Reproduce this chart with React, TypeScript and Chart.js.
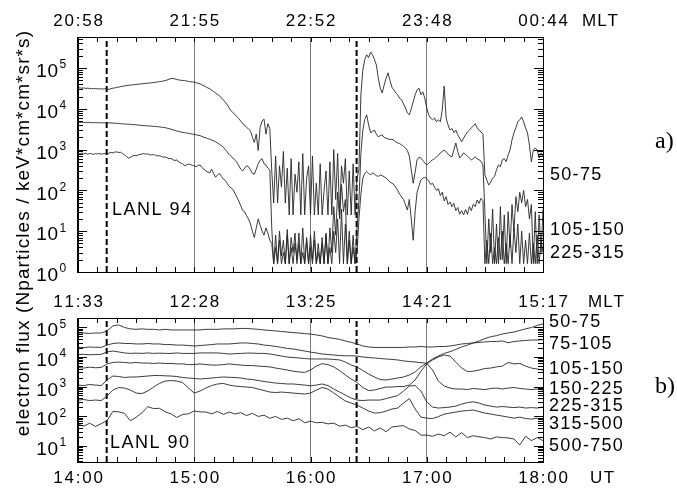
import React, { useEffect, useRef } from 'react';
import { Chart, registerables } from 'chart.js';

Chart.register(...registerables);

// ---------- data ----------
const UT_TICKS = ['14:00', '15:00', '16:00', '17:00', '18:00'];
const MLT_TICKS_A = ['20:58', '21:55', '22:52', '23:48', '00:44'];
const MLT_TICKS_B = ['11:33', '12:28', '13:25', '14:21', '15:17'];
const CHANNELS_A = ['50-75', '105-150', '225-315'];
const CHANNELS_B = ['50-75', '75-105', '105-150', '150-225', '225-315', '315-500', '500-750'];
const INJECTION_MINUTES = [14.8, 143.8];

// minutes after 14:00 UT
const MINUTES_A = Array.from({ length: 241 }, (_, i) => i);
const MINUTES_B = Array.from({ length: 81 }, (_, i) => i * 3);

// LANL 94, one value per minute
const FLUX_A_50_75 = [
  33000, 32500, 32000, 32500, 31500, 32000, 31500, 31000, 31500, 31000,
  31000, 30500, 31000, 30500, 31000, 30500, 30000, 31000, 32000, 32500,
  33500, 34000, 35000, 35500, 36500, 37000, 37500, 38000, 38500, 39000,
  39500, 40000, 40500, 41000, 41500, 42000, 42500, 43000, 43500, 44000,
  44500, 45500, 46000, 47000, 48000, 49000, 51000, 53000, 55000, 56000,
  54000, 52000, 51000, 50000, 49500, 49000, 48000, 47000, 46000, 45500,
  45000, 43500, 42000, 41000, 38500, 36500, 34500, 32500, 31000, 28500,
  26500, 24500, 22500, 21000, 18500, 16500, 14500, 12500, 10500, 9000,
  8000, 7200, 6500, 5700, 5000, 4300, 4000, 3500, 3200, 2900,
  2000, 1500, 2400, 950, 3500, 5000, 5600, 2400, 4300, 3300,
  300, 49, 700, 49, 400, 120, 900, 49, 350, 25,
  600, 25, 250, 90, 500, 25, 800, 25, 200, 400,
  25, 700, 25, 150, 25, 450, 25, 100, 300, 25,
  500, 25, 1000, 60, 800, 25, 400, 150, 600, 25,
  300, 25, 450, 25, 200, 320, 22000, 89000, 160000, 210000,
  180000, 245000, 210000, 160000, 118000, 56000, 32000, 24500, 38000, 56000,
  76000, 50000, 34000, 29000, 24500, 22000, 18000, 16600, 13200, 10500,
  8000, 7100, 10000, 14800, 22000, 29000, 32000, 22000, 26000, 18000,
  10500, 7100, 5900, 5400, 5900, 4800, 5400, 4800, 9300, 36000,
  5900, 4000, 3000, 3300, 2600, 3000, 2300, 1900, 1550, 1900,
  2300, 2700, 3000, 3400, 3800, 4300, 3400, 3000, 2700, 2400,
  240, 178, 135, 160, 200, 220, 320, 420, 380, 560,
  600, 510, 740, 980, 1740, 2570, 3400, 4800, 5400, 6300,
  4800, 3400, 2570, 1290, 500, 980, 1100, 980, 620, 830,
  660,
];
const FLUX_A_105_150 = [
  4700, 4650, 4700, 4600, 4650, 4600, 4650, 4550, 4600, 4550,
  4600, 4500, 4550, 4500, 4550, 4500, 4500, 4500, 4450, 4450,
  4400, 4350, 4300, 4300, 4250, 4200, 4200, 4150, 4100, 4100,
  4050, 4000, 3950, 3900, 3900, 3850, 3800, 3800, 3750, 3700,
  3700, 3650, 3600, 3550, 3500, 3450, 3350, 3250, 3150, 3050,
  2950, 2850, 2800, 2700, 2650, 2600, 2550, 2500, 2450, 2400,
  2350, 2300, 2250, 2200, 2100, 2000, 1950, 1850, 1800, 1700,
  1650, 1550, 1450, 1350, 1250, 1150, 1000, 880, 760, 680,
  620, 550, 490, 400, 330, 300, 350, 400, 380, 320,
  260, 250, 330, 450, 550, 600, 450, 420, 350, 320,
  12, 1.6, 8, 1.6, 10, 2.5, 6, 1.6, 11, 1.6,
  7, 3, 9, 1.6, 5, 1.6, 12, 1.6, 6, 1.6,
  8, 2, 10, 1.6, 5, 1.6, 7, 1.6, 9, 1.6,
  12, 3, 40, 8, 90, 20, 140, 30, 60, 1.6,
  10, 1.6, 8, 1.6, 12, 58, 800, 3000, 5500, 7100,
  4000, 2600, 2800, 3000, 2400, 2050, 2200, 2300, 2000, 1900,
  1850, 1750, 1800, 1700, 1550, 1450, 1400, 1300, 1200, 1100,
  950, 690, 320, 150, 280, 560, 650, 620, 540, 470,
  420, 460, 520, 560, 600, 660, 720, 830, 900, 980,
  870, 780, 700, 660, 1000, 1450, 900, 620, 700, 830,
  760, 690, 620, 560, 600, 660, 600, 560, 520, 420,
  30, 1.6, 20, 3, 35, 1.6, 15, 1.6, 40, 2,
  25, 1.6, 30, 4, 45, 10, 70, 30, 90, 50,
  100, 40, 60, 20, 45, 1.6, 30, 1.6, 25, 3,
  35,
];
const FLUX_A_225_315 = [
  800, 780, 820, 790, 810, 770, 800, 790, 760, 800,
  780, 810, 770, 790, 800, 780, 820, 850, 830, 870,
  880, 850, 860, 800, 740, 680, 620, 640, 690, 720,
  700, 740, 760, 780, 800, 770, 790, 750, 740, 760,
  720, 700, 710, 680, 650, 660, 630, 600, 610, 560,
  540, 560, 500, 470, 450, 400, 420, 440, 430, 410,
  400, 380, 410, 420, 360, 330, 300, 280, 270, 330,
  260, 210, 240, 260, 220, 190, 175, 150, 125, 115,
  105, 85, 68, 55, 42, 32, 30, 24, 20, 15,
  10, 7, 12, 20, 14, 10, 8, 12, 9, 6,
  5, 1.6, 4, 1.6, 6, 1.6, 3, 1.6, 8, 1.6,
  4, 1.6, 5, 2, 9, 1.6, 3, 1.6, 7, 1.6,
  4, 1.6, 6, 1.6, 3, 1.6, 5, 1.6, 8, 1.6,
  4, 1.6, 10, 3, 20, 1.6, 35, 1.6, 15, 1.6,
  6, 1.6, 4, 1.6, 3, 20, 80, 200, 260, 290,
  260, 240, 270, 250, 230, 220, 240, 230, 215, 200,
  180, 160, 150, 140, 120, 100, 80, 70, 60, 45,
  33, 60, 20, 6, 30, 90, 130, 180, 200, 210,
  190, 170, 140, 150, 120, 100, 110, 75, 90, 55,
  70, 45, 52, 40, 48, 32, 38, 26, 32, 25,
  34, 26, 40, 32, 46, 40, 58, 48, 64, 56,
  1.6, 6, 1.6, 9, 1.6, 4, 1.6, 7, 2, 10,
  1.6, 5, 1.6, 8, 1.6, 12, 3, 15, 1.6, 10,
  1.6, 6, 1.6, 9, 1.6, 5, 1.6, 8, 1.6, 6,
  3,
];

// LANL 90, one value every 3 minutes
const FLUX_B_1 = [
  64000, 64000, 62000, 64000, 64000, 75000, 111000, 120000, 98000, 88000,
  85000, 88000, 85000, 85000, 81000, 85000, 81000, 81000, 81000, 81000,
  81000, 81000, 85000, 85000, 85000, 88000, 88000, 88000, 91000, 91000,
  88000, 85000, 81000, 78000, 75000, 72000, 69000, 66000, 64000, 61000,
  59000, 55000, 51000, 45000, 42000, 39000, 34500, 31000, 27300, 23300,
  21600, 20800, 20800, 20800, 20800, 20800, 20800, 21600, 21600, 22400,
  21600, 21600, 22400, 22400, 23300, 25000, 27300, 28300, 29500, 30700,
  32000, 33000, 33000, 34500, 30000, 33000, 34500, 36000, 37000, 37000,
  38500,
];
const FLUX_B_2 = [
  21000, 20500, 21600, 21000, 21000, 25000, 28300, 29500, 28300, 28300,
  27300, 27300, 28300, 27300, 27300, 26000, 26000, 25000, 25000, 24200,
  23300, 24200, 25000, 26000, 27300, 27300, 27300, 28300, 29500, 29500,
  28300, 27300, 25000, 24000, 22500, 21000, 19300, 18500, 17100, 15800,
  14500, 13600, 12500, 12000, 11600, 11100, 10900, 10900, 10700, 9900,
  9500, 9200, 8800, 8500, 8200, 7900, 7300, 7000, 6700, 6400,
  6100, 3600, 1530, 1040, 890, 824, 824, 790, 860, 824,
  790, 860, 890, 824, 890, 925, 860, 824, 790, 824,
  762,
];
const FLUX_B_3 = [
  12000, 12200, 11800, 12000, 12200, 14700, 15800, 14700, 13600, 13100,
  13400, 13100, 13600, 13100, 13400, 13100, 13100, 13600, 13100, 13100,
  13100, 13600, 13600, 13600, 13600, 13100, 12500, 12800, 13100, 13400,
  13400, 13100, 13100, 12500, 11600, 10700, 9900, 9500, 9200, 8800,
  8500, 8500, 8500, 8500, 8200, 7900, 6700, 5300, 4600, 3450,
  2640, 2100, 1720, 1660, 1790, 1940, 2100, 2450, 3100, 4600,
  6200, 8500, 10700, 13100, 15000, 17800, 21600, 25000, 29500, 34500,
  41500, 48000, 52000, 59000, 64000, 69000, 78000, 88000, 98000, 115000,
  130000,
];
const FLUX_B_4 = [
  4400, 4200, 4500, 4300, 4400, 5800, 6500, 6700, 6500, 6200,
  6500, 6200, 6200, 6000, 6200, 6000, 6000, 5800, 5800, 5500,
  5500, 5800, 5500, 5300, 5300, 5500, 5800, 5500, 5300, 5100,
  5100, 4900, 4750, 4600, 4200, 3900, 3600, 3300, 3100, 3000,
  3600, 4900, 5900, 5500, 4600, 3450, 2450, 1790, 1370, 925,
  735, 762, 860, 962, 962, 1000, 1000, 1120, 1660, 3300,
  5800, 7900, 9900, 11600, 10700, 6700, 4200, 3200, 3300, 3600,
  4050, 4200, 4600, 4900, 6500, 5800, 6000, 4900, 4200, 3900,
  3600,
];
const FLUX_B_5 = [
  1120, 1080, 1170, 1120, 1080, 1660, 2260, 2180, 2020, 2100,
  2100, 2180, 2260, 2350, 2350, 2300, 2260, 2180, 2020, 1940,
  1870, 1790, 1870, 1940, 2020, 2100, 2050, 2020, 1940, 1790,
  1720, 1600, 1480, 1400, 1310, 1270, 1220, 1220, 1170, 1120,
  1060, 1120, 1220, 1080, 824, 652, 516, 409, 350, 337,
  350, 350, 350, 393, 442, 497, 705, 1040, 1080, 705,
  300, 203, 188, 195, 203, 219, 256, 288, 306, 277,
  237, 219, 203, 211, 203, 195, 203, 188, 195, 188,
  203,
];
const FLUX_B_6 = [
  350, 364, 337, 350, 337, 478, 762, 925, 890, 762,
  603, 580, 705, 962, 1270, 1530, 1590, 1530, 1370, 890,
  603, 705, 890, 1080, 1220, 1270, 1120, 1040, 1000, 962,
  925, 824, 735, 652, 627, 652, 627, 603, 580, 558,
  603, 762, 925, 824, 603, 442, 324, 277, 237, 188,
  149, 127, 132, 149, 174, 188, 277, 393, 174, 93,
  86, 83, 97, 118, 127, 138, 149, 155, 161, 143,
  127, 118, 109, 101, 93, 86, 93, 83, 80, 86,
  74,
];
const FLUX_B_7 = [
  54, 46, 58, 45, 56, 70, 145, 140, 125, 70,
  92, 130, 210, 180, 185, 140, 120, 90, 115, 120,
  150, 140, 138, 120, 145, 115, 138, 118, 132, 105,
  125, 98, 108, 85, 98, 78, 86, 70, 82, 60,
  68, 60, 62, 55, 58, 46, 50, 41, 45, 35,
  43, 32, 40, 30, 43, 46, 48, 37, 33, 23,
  23, 21, 25, 22, 29, 20, 28, 19, 22, 20,
  19, 17, 20, 19, 18.5, 17, 10.6, 21, 15, 19,
  15,
];

const SERIES_A = [FLUX_A_50_75, FLUX_A_105_150, FLUX_A_225_315];
const SERIES_B = [FLUX_B_1, FLUX_B_2, FLUX_B_3, FLUX_B_4, FLUX_B_5, FLUX_B_6, FLUX_B_7];

// ---------- layout / style ----------
const SANS = '"Liberation Sans", Arial, Helvetica, sans-serif';
const SERIF = '"Liberation Serif", "Times New Roman", serif';
const W = 677;
const H_A = 285;
const H_B = 203;

type Txt = { s: string; x: number; y: number; size: number; align?: 'left' | 'center' | 'right'; family?: string; sp?: number };

// text with manual letter spacing
function drawText(ctx: CanvasRenderingContext2D, t: Txt) {
  ctx.save();
  ctx.font = `${t.size}px ${t.family ?? SANS}`;
  ctx.fillStyle = '#000';
  ctx.textAlign = 'left';
  ctx.textBaseline = 'middle';
  const sp = t.sp ?? 0;
  const chars = Array.from(t.s);
  const widths = chars.map((c) => ctx.measureText(c).width);
  const total = widths.reduce((a, b) => a + b, 0) + sp * (chars.length - 1);
  let x = t.x;
  if (t.align === 'center') x -= total / 2;
  else if (t.align === 'right') x -= total;
  chars.forEach((c, i) => {
    ctx.fillText(c, x, t.y);
    x += widths[i] + sp;
  });
  ctx.restore();
}

function decorPlugin(cfg: { top: string[]; topY: number; topWord: Txt; bottom?: string[]; bottomY?: number; texts: Txt[] }) {
  return {
    id: 'decor',
    afterDraw(chart: any) {
      const { ctx, chartArea, scales } = chart;
      const { left, right, top, bottom } = chartArea;
      const xs = scales.x;
      const ys = scales.y;
      ctx.save();
      ctx.strokeStyle = '#000';
      ctx.lineWidth = 1;
      ctx.beginPath();
      for (let m = 10; m < 240; m += 10) {
        const px = Math.round(xs.getPixelForValue(m)) + 0.5;
        ctx.moveTo(px, top);
        ctx.lineTo(px, top + 5);
        ctx.moveTo(px, bottom);
        ctx.lineTo(px, bottom - 5);
      }
      const lo = Math.floor(Math.log10(ys.min));
      const hi = Math.ceil(Math.log10(ys.max));
      for (let d = lo; d <= hi; d++) {
        for (let k = 1; k <= 9; k++) {
          const v = k * Math.pow(10, d);
          if (v < ys.min * 0.999 || v > ys.max) continue;
          const py = Math.round(ys.getPixelForValue(v)) + 0.5;
          const len = k === 1 ? 9 : 5;
          ctx.moveTo(left, py);
          ctx.lineTo(left + len, py);
          ctx.moveTo(right, py);
          ctx.lineTo(right - len, py);
        }
      }
      ctx.stroke();
      ctx.strokeRect(Math.round(left) + 0.5, Math.round(top) + 0.5, Math.round(right - left), Math.round(bottom - top));
      ctx.lineWidth = 2;
      ctx.beginPath();
      ctx.moveTo(Math.round(left), top);
      ctx.lineTo(Math.round(left), bottom + 1);
      ctx.stroke();
      ctx.restore();

      // y decade labels 10^n
      for (let d = lo; d <= hi; d++) {
        const v = Math.pow(10, d);
        if (v < ys.min * 0.999 || v > ys.max) continue;
        const py = ys.getPixelForValue(v);
        drawText(ctx, { s: '10', x: left - 20, y: py + 4, size: 19, align: 'right', sp: 0.5 });
        drawText(ctx, { s: String(d), x: left - 18.5, y: py - 3, size: 12 });
      }
      // time labels
      cfg.top.forEach((s, i) => drawText(ctx, { s, x: xs.getPixelForValue(i * 60), y: cfg.topY, size: 17, align: 'center', sp: 1.8 }));
      drawText(ctx, cfg.topWord);
      if (cfg.bottom) {
        cfg.bottom.forEach((s, i) => drawText(ctx, { s, x: xs.getPixelForValue(i * 60), y: cfg.bottomY!, size: 17, align: 'center', sp: 1.8 }));
      }
      cfg.texts.forEach((t) => drawText(ctx, t));
    },
  };
}

function lineSets(minutes: number[], series: number[][], yMin: number, yMax: number) {
  const sets: any[] = series.map((vals) => ({
    data: vals.map((v, i) => ({ x: minutes[i], y: v })),
    borderColor: '#262626',
    borderWidth: 0.9,
    pointRadius: 0,
    tension: 0,
    fill: false,
  }));
  INJECTION_MINUTES.forEach((m) => {
    sets.push({
      data: [{ x: m, y: yMin }, { x: m, y: yMax }],
      borderColor: '#000',
      borderWidth: 2,
      borderDash: [6, 3],
      pointRadius: 0,
      fill: false,
    });
  });
  return sets;
}

function makeConfig(minutes: number[], series: number[][], yMin: number, yMax: number, padTop: number, xHeight: number, plugin: any) {
  return {
    type: 'line',
    data: { datasets: lineSets(minutes, series, yMin, yMax) },
    options: {
      responsive: false,
      animation: false,
      devicePixelRatio: 1,
      layout: { padding: { top: padTop, right: W - 543, bottom: 0, left: 0 } },
      plugins: { legend: { display: false }, tooltip: { enabled: false } },
      events: [],
      scales: {
        x: {
          type: 'linear',
          min: 0,
          max: 240,
          ticks: { display: false, stepSize: 60 },
          grid: {
            drawTicks: false,
            lineWidth: 1,
            color: (c: any) => (c.tick && (c.tick.value === 0 || c.tick.value === 240) ? 'rgba(0,0,0,0)' : '#7a7a7a'),
          },
          border: { display: false },
          afterFit: (s: any) => { s.height = xHeight; },
        },
        y: {
          type: 'logarithmic',
          min: yMin,
          max: yMax,
          ticks: { display: false },
          grid: { display: false },
          border: { display: false },
          afterFit: (s: any) => { s.width = 78; },
        },
      },
    },
    plugins: [plugin],
  };
}

export default function App() {
  const refA = useRef<HTMLCanvasElement>(null);
  const refB = useRef<HTMLCanvasElement>(null);

  useEffect(() => {
    const labelsA: Txt[] = [
      { s: CHANNELS_A[0], x: 550, y: 175, size: 18, sp: 1.3 },
      { s: CHANNELS_A[1], x: 550, y: 230, size: 18, sp: 1.3 },
      { s: CHANNELS_A[2], x: 550, y: 253, size: 18, sp: 1.3 },
      { s: 'a)', x: 655, y: 142, size: 24, family: SERIF },
      { s: 'LANL 94', x: 112, y: 210, size: 18, sp: 1.5 },
    ];
    const yB = [37, 59, 84, 104, 121, 139, 161];
    const labelsB: Txt[] = CHANNELS_B.map((s, i) => ({ s, x: 549, y: yB[i], size: 18, sp: 1.3 }));
    labelsB.push({ s: 'b)', x: 655, y: 102, size: 24, family: SERIF });
    labelsB.push({ s: 'LANL 90', x: 110, y: 158, size: 18, sp: 1.5 });
    labelsB.push({ s: 'UT', x: 590, y: 193, size: 17, sp: 1.5 });

    const pA = decorPlugin({ top: MLT_TICKS_A, topY: 21, topWord: { s: 'MLT', x: 582, y: 21, size: 17, sp: 1 }, texts: labelsA });
    const pB = decorPlugin({
      top: MLT_TICKS_B, topY: 17, topWord: { s: 'MLT', x: 588, y: 17, size: 17, sp: 1 },
      bottom: UT_TICKS, bottomY: 193, texts: labelsB,
    });
    const a = new Chart(refA.current as any, makeConfig(MINUTES_A, SERIES_A, 1, 575000, 37, H_A - 272, pA) as any);
    const b = new Chart(refB.current as any, makeConfig(MINUTES_B, SERIES_B, 2.85, 205000, 33, H_B - 177, pB) as any);
    return () => { a.destroy(); b.destroy(); };
  }, []);

  return (
    <div style={{ position: 'absolute', left: 0, top: 0, width: W, height: 488, background: '#fff', overflow: 'hidden' }}>
      <canvas ref={refA} width={W} height={H_A} style={{ position: 'absolute', left: 0, top: 0, width: W, height: H_A }} />
      <canvas ref={refB} width={W} height={H_B} style={{ position: 'absolute', left: 0, top: H_A, width: W, height: H_B }} />
      <div
        style={{
          position: 'absolute', left: 23 - 220, top: 233 - 12, width: 440, height: 24, lineHeight: '24px',
          textAlign: 'center', transform: 'rotate(-90deg)', fontFamily: SANS, fontSize: 19,
          letterSpacing: '1.1px', whiteSpace: 'nowrap', color: '#000',
        }}
      >
        electron flux (Nparticles / keV*cm*cm*sr*s)
      </div>
    </div>
  );
}
